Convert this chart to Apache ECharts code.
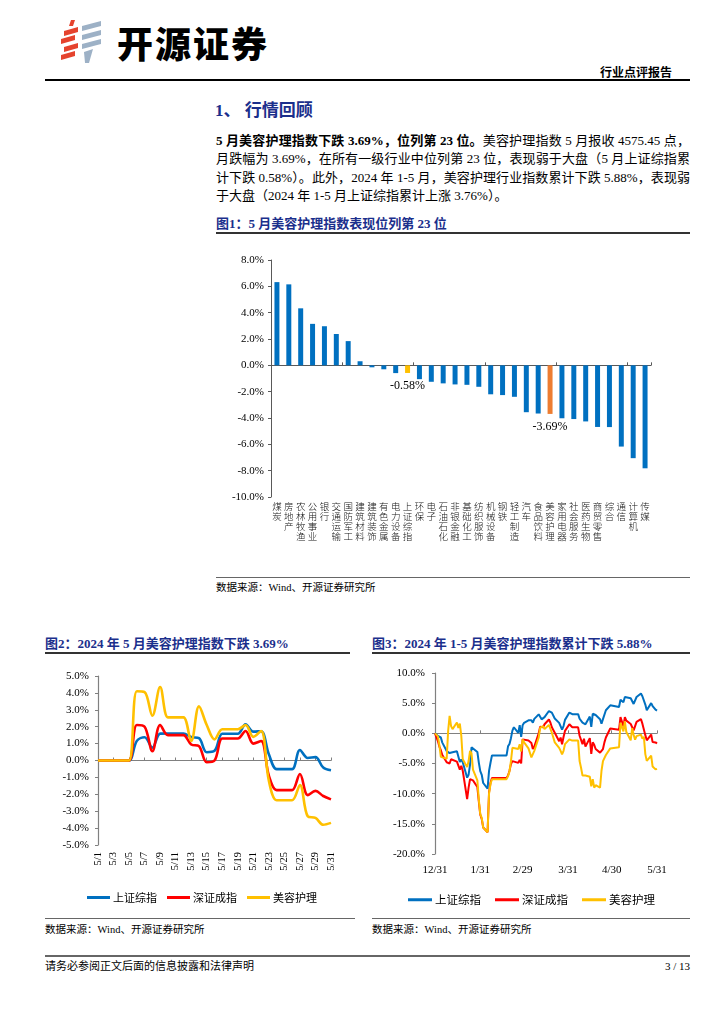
<!DOCTYPE html>
<html>
<head>
<meta charset="utf-8">
<script src="https://cdn.jsdelivr.net/npm/echarts@6/dist/echarts.min.js"></script>
<style>
html,body{margin:0;padding:0;background:#fff;}
#page{position:relative;width:724px;height:1024px;overflow:hidden;font-family:"Liberation Serif","Noto Sans CJK SC",serif;color:#000;}
.abs{position:absolute;white-space:nowrap;}
.navy{color:#1B2F8C;font-weight:bold;}
.rule{position:absolute;}
.para{position:absolute;left:216px;width:474px;font-size:13px;line-height:18.3px;white-space:nowrap;}
.just{text-align:justify;text-align-last:justify;}
#chart{position:absolute;left:0;top:0;width:724px;height:1024px;}
</style>
</head>
<body>
<div id="page">
  <!-- header -->
  <svg class="abs" style="left:58px;top:20px" width="48" height="44" viewBox="0 0 48 44">
    <g fill="#E5432E">
      <polygon points="13,0 17,0 15,6 11,6"/>
      <polygon points="6,11 20,7 20,12 6,16"/>
      <polygon points="3,19 17,15 17,20 3,24"/>
      <polygon points="6,27 20,23 20,28 6,32"/>
      <polygon points="3,35 17,31 17,36 3,40"/>
    </g>
    <g fill="#9DB1C6">
      <polygon points="24,6 43,1 43,6 24,11"/>
      <polygon points="24,15 43,10 43,15 24,20"/>
      <polygon points="24,24 43,19 43,24 24,29"/>
      <polygon points="26,32 35,29 31,43 27,43"/>
    </g>
  </svg>
  <div class="abs" style="left:117px;top:20px;font-family:'Noto Sans CJK SC';font-size:36px;font-weight:900;line-height:44px;letter-spacing:2px;">开源证券</div>
  <div class="abs" style="right:52px;top:65px;font-family:'Noto Sans CJK SC';font-size:12px;font-weight:bold;line-height:14px;">行业点评报告</div>
  <div class="rule" style="left:45px;top:79px;width:645px;height:1.5px;background:#000;"></div>

  <div class="abs navy" style="left:215px;top:100px;font-size:17px;line-height:22px;font-family:'Liberation Serif','Noto Sans CJK SC';">1、&nbsp;行情回顾</div>

  <div class="para just" style="top:132px;"><b>5 月美容护理指数下跌 3.69%，位列第 23 位。</b>美容护理指数 5 月报收 4575.45 点，</div>
  <div class="para just" style="top:150.3px;">月跌幅为 3.69%，在所有一级行业中位列第 23 位，表现弱于大盘（5 月上证综指累</div>
  <div class="para just" style="top:168.6px;">计下跌 0.58%）。此外，2024 年 1-5 月，美容护理行业指数累计下跌 5.88%，表现弱</div>
  <div class="para" style="top:186.9px;">于大盘（2024 年 1-5 月上证综指累计上涨 3.76%）。</div>

  <div class="abs navy" style="left:216px;top:216px;font-size:13px;line-height:16px;">图1：5 月美容护理指数表现位列第 23 位</div>
  <div class="rule" style="left:216px;top:232px;width:474px;height:1.5px;background:#333;"></div>

  <div class="rule" style="left:216px;top:577px;width:474px;height:1px;background:#666;"></div>
  <div class="abs" style="left:216px;top:581px;font-size:10.5px;line-height:14px;">数据来源：Wind、开源证券研究所</div>

  <div class="abs navy" style="left:45px;top:636px;font-size:13px;line-height:16px;">图2：2024 年 5 月美容护理指数下跌 3.69%</div>
  <div class="rule" style="left:45px;top:652px;width:305px;height:1.5px;background:#333;"></div>
  <div class="abs navy" style="left:372px;top:636px;font-size:13px;line-height:16px;">图3：2024 年 1-5 月美容护理指数累计下跌 5.88%</div>
  <div class="rule" style="left:372px;top:652px;width:318px;height:1.5px;background:#333;"></div>

  <div class="rule" style="left:45px;top:918px;width:310px;height:1px;background:#666;"></div>
  <div class="rule" style="left:372px;top:918px;width:318px;height:1px;background:#666;"></div>
  <div class="abs" style="left:45px;top:923px;font-size:10.5px;line-height:14px;">数据来源：Wind、开源证券研究所</div>
  <div class="abs" style="left:372px;top:923px;font-size:10.5px;line-height:14px;">数据来源：Wind、开源证券研究所</div>

  <div class="rule" style="left:45px;top:955px;width:645px;height:2px;background:#666;"></div>
  <div class="abs" style="left:45px;top:959px;font-size:11px;line-height:14px;">请务必参阅正文后面的信息披露和法律声明</div>
  <div class="abs" style="right:34px;top:959px;font-size:11px;line-height:14px;">3 / 13</div>

  <div id="chart"></div>
</div>

<script>
// ---------- Figure 1: May returns by industry ----------
const industries = ['煤炭','房地产','农林牧渔','公用事业','银行','交通运输','国防军工','建筑材料','建筑装饰','有色金属','电力设备','上证综指','环保','电子','石油石化','非银金融','基础化工','纺织服饰','机械设备','钢铁','轻工制造','汽车','食品饮料','美容护理','家用电器','社会服务','医药生物','商贸零售','综合','通信','计算机','传媒'];
const mayReturns = [6.32,6.15,4.33,3.15,2.97,2.38,1.84,0.31,-0.15,-0.30,-0.59,-0.58,-1.05,-1.25,-1.37,-1.45,-1.48,-1.63,-2.20,-2.26,-2.39,-3.56,-3.66,-3.69,-4.02,-4.08,-4.26,-4.68,-4.69,-6.17,-7.05,-7.82];
const barTicks = [-10,-8,-6,-4,-2,0,2,4,6,8];

// ---------- Figure 2: May daily cumulative (%) ----------
const mayDays = ['5/1','5/2','5/3','5/4','5/5','5/6','5/7','5/8','5/9','5/10','5/11','5/12','5/13','5/14','5/15','5/16','5/17','5/18','5/19','5/20','5/21','5/22','5/23','5/24','5/25','5/26','5/27','5/28','5/29','5/30','5/31'];
const maySH  = [0,0,0,0,0, 1.16,1.38,0.76,1.59,1.60, 1.60,1.60, 1.39,1.32,0.49,0.57,1.58, 1.58,1.58, 2.14,1.71,1.73,0.37,-0.51, -0.51,-0.51, 0.62,0.15,0.20,-0.42,-0.58];
const maySZ  = [0,0,0,0,0, 2.10,2.00,0.55,2.10,1.50, 1.50,1.50, 0.95,0.85,-0.10,0.00,1.30, 1.30,1.30, 1.75,1.00,1.15,-0.90,-1.75, -1.75,-1.75, -0.80,-2.05,-1.80,-2.10,-2.30];
const mayMR  = [0,0,0,0,0, 4.10,4.05,2.65,4.35,2.55, 2.55,2.55, 1.15,3.20,2.10,1.25,1.85, 1.85,1.85, 2.10,1.40,1.75,-1.20,-2.35, -2.35,-2.35, -1.45,-3.30,-3.40,-3.80,-3.69];

// ---------- Figure 3: YTD cumulative (%) ----------
const ytdDates = ['12/31','1/2','1/3','1/4','1/5','1/8','1/9','1/10','1/11','1/12','1/15','1/16','1/17','1/18','1/19','1/22','1/23','1/24','1/25','1/26','1/29','1/30','1/31',
 '2/1','2/2','2/5','2/6','2/7','2/8','2/18','2/19','2/20','2/21','2/22','2/23','2/26','2/27','2/28','2/29',
 '3/1','3/4','3/5','3/6','3/7','3/8','3/11','3/12','3/13','3/14','3/15','3/18','3/19','3/20','3/21','3/22','3/25','3/26','3/27','3/28','3/29',
 '4/1','4/2','4/3','4/7','4/8','4/9','4/10','4/11','4/12','4/15','4/16','4/17','4/18','4/19','4/22','4/23','4/24','4/25','4/26','4/29','4/30',
 '5/5','5/6','5/7','5/8','5/9','5/10','5/13','5/14','5/15','5/16','5/17','5/20','5/21','5/22','5/23','5/24','5/27','5/28','5/29','5/30','5/31'];
const ytdSH = [0,-0.43,-0.26,-0.69,-1.54,-2.94,-2.75,-3.27,-2.97,-3.13,-2.98,-2.72,-4.75,-4.34,-4.80,-7.35,-6.86,-5.18,-2.31,-2.18,-3.08,-4.85,-6.27,
 -6.87,-8.23,-9.17,-6.23,-4.88,-3.66,-3.66,-2.16,-1.75,-0.80,0.45,1.01,0.07,1.36,-0.58,1.35,
 1.75,2.16,2.45,2.18,1.76,2.39,3.15,2.73,2.32,2.13,2.68,3.70,3.53,3.44,3.45,2.46,1.73,1.90,0.61,1.20,2.23,
 3.45,3.37,3.18,3.18,2.42,2.47,1.76,1.99,1.50,2.77,1.08,3.24,3.34,3.04,2.34,1.58,2.35,2.62,3.82,4.64,4.37,
 4.37,5.57,5.81,5.16,6.03,6.04,5.82,5.74,4.87,4.96,6.02,6.59,6.15,6.17,4.76,3.83,5.01,4.52,4.57,3.92,3.76];
const ytdSZ = [0,-1.3,-2.2,-2.8,-3.6,-4.8,-4.5,-5.0,-4.3,-4.6,-4.7,-4.5,-6.0,-5.4,-6.2,-10.9,-9.0,-7.6,-7.3,-7.8,-8.9,-11.3,-13.5,
 -14.2,-15.6,-16.4,-9.8,-8.2,-7.4,-7.4,-7.0,-6.2,-5.1,-4.6,-4.6,-4.9,-4.4,-5.0,-1.0,
 -0.9,-1.2,-1.0,-1.6,-2.6,-2.2,0.0,1.1,1.2,1.0,1.5,2.3,1.8,1.0,0.9,0.1,-1.3,-0.7,-1.8,-0.6,0.4,
 1.5,1.3,1.0,1.0,-0.4,-0.7,-1.8,-0.9,-2.2,-0.8,-3.4,-1.5,-1.9,-2.6,-3.2,-3.5,-2.6,-1.5,-0.7,0.8,0.6,
 0.6,2.7,2.6,1.15,2.7,2.1,1.55,1.45,0.5,0.6,1.9,2.35,1.6,1.75,-0.3,-1.15,-0.2,-1.45,-1.2,-1.5,-1.7];
const ytdMR = [0,-0.5,-2.0,-3.9,-4.2,-4.2,0.4,2.9,1.2,0.7,1.8,0.9,1.6,-0.4,-4.3,-5.6,-4.6,-2.9,-3.3,-6.0,-7.8,-11.0,-13.4,
 -14.0,-15.6,-16.4,-10.0,-8.4,-7.6,-7.6,-7.1,-6.3,-4.6,-2.4,-2.1,-2.6,-1.8,-3.0,-1.0,
 -1.5,-2.5,-2.6,-4.0,-4.3,-2.9,-0.7,0.9,1.2,1.2,0.7,1.4,1.5,0.1,-0.7,-1.5,-2.4,-2.9,-3.5,-2.9,-1.8,
 -1.0,-1.0,-1.2,-1.2,-4.6,-5.7,-7.0,-7.3,-7.0,-7.2,-8.8,-7.6,-9.0,-8.6,-9.0,-6.2,-4.6,-4.3,-3.6,-2.5,-2.3,
 -2.3,1.74,1.69,0.32,2.0,0.22,-1.15,0.86,-0.22,-1.05,-0.46,-0.22,-0.9,-0.56,-3.44,-4.57,-3.69,-5.5,-5.59,-5.98,-5.88];
const ytdTicks = ['12/31','1/31','2/29','3/31','4/30','5/31'];

const seriesNames = ['上证综指','深证成指','美容护理'];
const seriesColors = ['#0070C0','#FF0000','#FFC000'];

// day offset from 2023-12-31 (date-axis position)
function dayOf(md){
  const p = md.split('/').map(Number);
  if (p[0] === 12) return 0;
  return Math.round((Date.UTC(2024, p[0]-1, p[1]) - Date.UTC(2023, 11, 31)) / 86400000);
}
const tickDays = ytdTicks.map(dayOf);

function barColor(name){
  if (name === '上证综指') return '#FFC000';
  if (name === '美容护理') return '#ED7D31';
  return '#0070C0';
}

const serif = '"Liberation Serif","Noto Sans CJK SC",serif';
const axisGrey = '#595959';
const pct1 = v => v.toFixed(1) + '%';

const chart = echarts.init(document.getElementById('chart'), null, {renderer:'canvas'});
const option = {
  animation:false,
  textStyle:{fontFamily:serif},
  grid:[
    {left:271, top:260, width:380, height:237},
    {left:98, top:676, width:233, height:169},
    {left:435, top:673, width:222, height:181}
  ],
  xAxis:[
    {gridIndex:0, type:'category', data:industries, position:'bottom',
     axisLine:{show:false, onZero:false}, axisTick:{show:false},
     axisLabel:{interval:0, margin:4, fontSize:9.5, lineHeight:10, fontFamily:'Noto Sans CJK SC', fontWeight:300, color:'#111', verticalAlign:'top',
       formatter:v => v.split('').join('\n')}},
    {gridIndex:0, type:'category', data:industries, position:'top',
     axisLine:{show:true, onZero:true, lineStyle:{color:axisGrey, width:1}},
     axisTick:{show:true, length:3, lineStyle:{color:axisGrey}}, axisLabel:{show:false}},
    {gridIndex:1, type:'category', data:mayDays, boundaryGap:false, position:'bottom',
     axisLine:{show:false, onZero:false}, axisTick:{show:false},
     axisLabel:{interval:1, rotate:90, margin:7, fontSize:10.5, color:'#000'}},
    {gridIndex:1, type:'category', data:mayDays, boundaryGap:false, position:'top',
     axisLine:{show:true, onZero:true, lineStyle:{color:'#808080', width:1.2}},
     axisTick:{show:true, interval:1, length:3, lineStyle:{color:'#808080'}}, axisLabel:{show:false}},
    {gridIndex:2, type:'value', min:0, max:152, position:'bottom',
     axisLine:{show:false, onZero:false}, axisTick:{show:false}, splitLine:{show:false},
     axisLabel:{customValues:tickDays, formatter:v => { const i = tickDays.indexOf(v); return i >= 0 ? ytdTicks[i] : ''; },
       fontSize:11, margin:11, color:'#000'}},
    {gridIndex:2, type:'value', min:0, max:152, position:'top',
     axisLine:{show:true, onZero:true, lineStyle:{color:'#808080', width:1.2}},
     axisTick:{show:true, customValues:tickDays, length:3, lineStyle:{color:'#808080'}},
     axisLabel:{show:false}, splitLine:{show:false}}
  ],
  yAxis:[
    {gridIndex:0, type:'value', min:-10, max:8, interval:2,
     axisLine:{show:true, lineStyle:{color:axisGrey}}, axisTick:{show:true, length:3, lineStyle:{color:axisGrey}},
     splitLine:{show:false}, axisLabel:{formatter:pct1, fontSize:11, margin:7, color:'#000'}},
    {gridIndex:1, type:'value', min:-5, max:5, interval:1,
     axisLine:{show:true, lineStyle:{color:'#808080', width:1.2}}, axisTick:{show:true, length:3, lineStyle:{color:'#808080'}},
     splitLine:{show:false}, axisLabel:{formatter:pct1, fontSize:11, margin:9, color:'#000'}},
    {gridIndex:2, type:'value', min:-20, max:10, interval:5,
     axisLine:{show:true, lineStyle:{color:'#808080', width:1.2}}, axisTick:{show:true, length:3, lineStyle:{color:'#808080'}},
     splitLine:{show:false}, axisLabel:{formatter:pct1, fontSize:11, margin:10, color:'#000'}}
  ],
  legend:[
    {left:82, top:887, itemWidth:23, itemHeight:3, itemGap:10, icon:'rect',
     data:seriesNames, textStyle:{fontSize:11, fontFamily:'Noto Sans CJK SC', color:'#000', padding:[0,0,0,-2]}},
    {left:403, top:889, itemWidth:24, itemHeight:3, itemGap:14, icon:'rect',
     data:seriesNames, textStyle:{fontSize:11.5, fontFamily:'Noto Sans CJK SC', color:'#000', padding:[0,0,0,-2]}}
  ],
  series:[
    {type:'bar', xAxisIndex:0, yAxisIndex:0, barWidth:'42%',
     data: mayReturns.map((v, i) => {
       const name = industries[i];
       const hl = (name === '上证综指' || name === '美容护理');
       return {value:v, itemStyle:{color:barColor(name)},
         label: hl ? {show:true, position:'bottom', distance:7, formatter:p => p.value.toFixed(2) + '%',
           fontSize:12, fontFamily:serif, color:'#000'} : {show:false}};
     })}
  ]
};

const mayData = [maySH, maySZ, mayMR];
const ytdData = [ytdSH, ytdSZ, ytdMR];
seriesNames.forEach((name, k) => {
  option.series.push({
    name, type:'line', xAxisIndex:2, yAxisIndex:1, data:mayData[k],
    smooth:0.35, showSymbol:false, symbol:'none',
    lineStyle:{color:seriesColors[k], width:2.6}, itemStyle:{color:seriesColors[k]}
  });
});
seriesNames.forEach((name, k) => {
  option.series.push({
    name, type:'line', xAxisIndex:4, yAxisIndex:2,
    data: ytdDates.map((d, i) => [dayOf(d), ytdData[k][i]]),
    showSymbol:false, symbol:'none',
    lineStyle:{color:seriesColors[k], width:2}, itemStyle:{color:seriesColors[k]}
  });
});
chart.setOption(option);
</script>
</body>
</html>
